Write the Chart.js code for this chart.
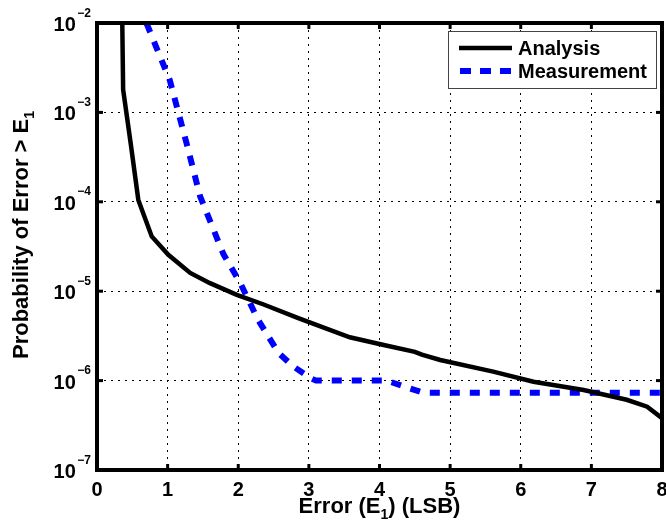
<!DOCTYPE html>
<html><head><meta charset="utf-8">
<script src="https://cdn.jsdelivr.net/npm/chart.js@4.4.1/dist/chart.umd.min.js"></script>
<style>html,body{margin:0;padding:0;background:#fff}</style>
</head><body>
<canvas id="c" width="666" height="523" style="display:block;width:666px;height:523px"></canvas>
<script>
// ---- data ----
const seriesNames = ['Analysis', 'Measurement'];
const analysisE = [0.358, 0.37, 0.477, 0.585, 0.775, 1.01, 1.32, 1.60, 1.98, 2.36, 2.85, 3.58, 4.06, 4.50, 4.60, 4.86, 5.61, 6.18, 6.89, 7.50, 7.79, 8.0];
const analysisP = [1e-2, 1.8e-3, 4.5e-4, 1.05e-4, 4.1e-5, 2.55e-5, 1.6e-5, 1.23e-5, 9.1e-6, 7.1e-6, 5.0e-6, 3.05e-6, 2.5e-6, 2.1e-6, 1.95e-6, 1.7e-6, 1.26e-6, 9.7e-7, 7.85e-7, 6.1e-7, 5.1e-7, 3.8e-7];
const measurementE = [0.70, 1.03, 1.27, 1.46, 1.79, 2.03, 2.28, 2.57, 2.78, 3.02, 3.10, 4.10, 4.62, 8.0];
const measurementP = [1e-2, 2.3e-3, 4.45e-4, 1.15e-4, 2.6e-5, 1.23e-5, 4.8e-6, 2.04e-6, 1.44e-6, 1.07e-6, 1.0e-6, 1.0e-6, 7.3e-7, 7.3e-7];
const xTicks = [0, 1, 2, 3, 4, 5, 6, 7, 8];
const yTickExps = [-2, -3, -4, -5, -6, -7];
const xTitleParts = ['Error (E', '1', ') (LSB)'];
const yTitleParts = ['Probability of Error > E', '1'];

const FONT = '"Liberation Sans", Arial, Helvetica, sans-serif';
const BLUE = '#0000ff';

function pts(xs, ys) { return xs.map((v, i) => ({ x: v, y: ys[i] })); }

function subText(ctx, parts, size, subSize, subDrop) {
  ctx.font = 'bold ' + size + 'px ' + FONT;
  const w0 = ctx.measureText(parts[0]).width;
  const w2 = ctx.measureText(parts[2] || '').width;
  ctx.font = 'bold ' + subSize + 'px ' + FONT;
  const w1 = ctx.measureText(parts[1]).width;
  const total = w0 + w1 + w2;
  let cx = -total / 2;
  ctx.textAlign = 'left';
  ctx.font = 'bold ' + size + 'px ' + FONT;
  ctx.fillText(parts[0], cx, 0); cx += w0;
  ctx.font = 'bold ' + subSize + 'px ' + FONT;
  ctx.fillText(parts[1], cx, subDrop); cx += w1;
  if (parts[2]) { ctx.font = 'bold ' + size + 'px ' + FONT; ctx.fillText(parts[2], cx, 0); }
}

const deco = {
  id: 'deco',
  afterDatasetsDraw(chart) {
    const { ctx, chartArea: a, scales: { x, y } } = chart;
    ctx.save();
    ctx.strokeStyle = '#000';
    ctx.lineWidth = 3;
    const seg = (x1, y1, x2, y2) => { ctx.beginPath(); ctx.moveTo(x1, y1); ctx.lineTo(x2, y2); ctx.stroke(); };
    xTicks.forEach(v => {
      const px = x.getPixelForValue(v);
      seg(px, a.bottom, px, a.bottom - 6);
      seg(px, a.top, px, a.top + 6);
    });
    yTickExps.forEach(e => {
      const py = y.getPixelForValue(Math.pow(10, e));
      seg(a.left, py, a.left + 6, py);
      seg(a.right, py, a.right - 6, py);
    });
    ctx.lineWidth = 4;
    ctx.strokeRect(a.left, a.top, a.right - a.left, a.bottom - a.top);

    ctx.fillStyle = '#000';
    ctx.textBaseline = 'alphabetic';
    ctx.font = 'bold 20px ' + FONT;
    ctx.textAlign = 'center';
    xTicks.forEach(v => ctx.fillText(String(v), x.getPixelForValue(v), 496));
    yTickExps.forEach(e => {
      const py = y.getPixelForValue(Math.pow(10, e));
      const exp = '\u2212' + Math.abs(e);
      ctx.font = 'bold 12px ' + FONT;
      const ew = ctx.measureText(exp).width;
      const right = 91;
      ctx.textAlign = 'left';
      ctx.fillText(exp, right - ew, py - 6.5);
      ctx.font = 'bold 20px ' + FONT;
      ctx.textAlign = 'right';
      ctx.fillText('10', right - ew - 1.5, py + 8);
    });
    ctx.save();
    ctx.translate((a.left + a.right) / 2, 513);
    subText(ctx, xTitleParts, 22, 14, 6);
    ctx.restore();
    ctx.save();
    ctx.translate(28, 235);
    ctx.rotate(-Math.PI / 2);
    subText(ctx, yTitleParts, 22, 14, 6);
    ctx.restore();

    const lx = 448.5, ly = 31.5, lw = 208, lh = 57;
    ctx.fillStyle = '#fff';
    ctx.fillRect(lx, ly, lw, lh);
    ctx.strokeStyle = '#444';
    ctx.lineWidth = 1;
    ctx.strokeRect(lx, ly, lw, lh);
    ctx.lineCap = 'butt';
    ctx.strokeStyle = '#000';
    ctx.lineWidth = 4.5;
    seg(459, 48, 512, 48);
    ctx.strokeStyle = BLUE;
    ctx.lineWidth = 6;
    ctx.setLineDash([11, 9]);
    seg(460, 71, 512, 71);
    ctx.setLineDash([]);
    ctx.fillStyle = '#000';
    ctx.font = 'bold 20px ' + FONT;
    ctx.textAlign = 'left';
    ctx.fillText(seriesNames[0], 518, 55);
    ctx.fillText(seriesNames[1], 518, 78);
    ctx.restore();
  }
};

new Chart(document.getElementById('c'), {
  type: 'line',
  data: {
    datasets: [
      { label: seriesNames[0], data: pts(analysisE, analysisP), borderColor: '#000', borderWidth: 4.5, pointRadius: 0, tension: 0, fill: false },
      { label: seriesNames[1], data: pts(measurementE, measurementP), borderColor: BLUE, borderWidth: 6, borderDash: [10, 10], borderCapStyle: 'butt', pointRadius: 0, tension: 0, fill: false }
    ]
  },
  options: {
    responsive: false,
    animation: false,
    devicePixelRatio: 1,
    layout: { padding: { left: 97, right: 4, top: 23, bottom: 53 } },
    plugins: { legend: { display: false }, tooltip: { enabled: false } },
    scales: {
      x: {
        type: 'linear', min: 0, max: 8,
        ticks: { display: false, stepSize: 1 },
        afterBuildTicks: s => { s.ticks = xTicks.map(v => ({ value: v })); },
        afterFit: s => { s.height = 0; },
        grid: { color: '#000', lineWidth: 1, drawTicks: false },
        border: { display: false, dash: [2, 5] }
      },
      y: {
        type: 'logarithmic', min: 1e-7, max: 1e-2,
        ticks: { display: false },
        afterBuildTicks: s => { s.ticks = yTickExps.map(e => ({ value: Math.pow(10, e) })); },
        afterFit: s => { s.width = 0; },
        grid: { color: '#000', lineWidth: 1, drawTicks: false },
        border: { display: false, dash: [2, 5] }
      }
    }
  },
  plugins: [deco]
});
</script>
</body></html>
